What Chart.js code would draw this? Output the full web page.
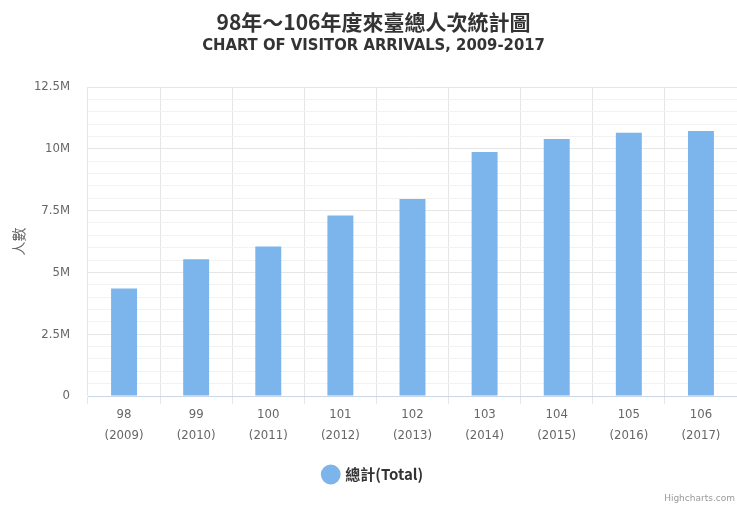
<!DOCTYPE html>
<html lang="zh-Hant">
<head>
  <meta charset="UTF-8" />
  <title>98年～106年度來臺總人次統計圖</title>
  <style>
    html, body { margin: 0; padding: 0; background: #fff; }
    #wrap { position: relative; width: 737px; height: 506px; }
    #credits { position: absolute; right: 2px; bottom: 3px; font: 9px "DejaVu Sans", sans-serif; color: #999; }
  </style>
  <script src="https://cdn.jsdelivr.net/npm/chart.js"></script>
</head>
<body>
  <div id="wrap">
    <canvas id="chart" width="737" height="506"></canvas>
    <div id="credits">Highcharts.com</div>
  </div>
  <script>
    // DATA
    const rocYears = ['98', '99', '100', '101', '102', '103', '104', '105', '106'];
    const adYears = ['(2009)', '(2010)', '(2011)', '(2012)', '(2013)', '(2014)', '(2015)', '(2016)', '(2017)'];
    const totals = [4350000, 5530000, 6050000, 7300000, 7970000, 9870000, 10400000, 10650000, 10720000];
    const yTickLabels = { 0: '0', 2500000: '2.5M', 5000000: '5M', 7500000: '7.5M', 10000000: '10M', 12500000: '12.5M' };

    const FONT = '"DejaVu Sans Condensed", "Noto Sans CJK TC", sans-serif';
    const CJK = '"Noto Sans CJK TC", sans-serif';
    const labels = rocYears.map((y, i) => [y, adYears[i]]);

    new Chart(document.getElementById('chart'), {
      type: 'bar',
      data: {
        labels,
        datasets: [{
          label: '總計(Total)',
          data: totals,
          backgroundColor: '#7cb5ec',
          borderWidth: 0,
          categoryPercentage: 1,
          barPercentage: 0.36
        }]
      },
      options: {
        responsive: false,
        animation: false,
        layout: { padding: { left: 10, right: 0, top: 9, bottom: 14 } },
        plugins: {
          title: {
            display: true,
            text: '98年～106年度來臺總人次統計圖',
            color: '#333',
            font: { family: CJK, size: 21, weight: 'bold', lineHeight: 1.2 },
            padding: { top: 0, bottom: 2 }
          },
          subtitle: {
            display: true,
            text: 'CHART OF VISITOR ARRIVALS, 2009-2017',
            color: '#333',
            font: { family: FONT, size: 16.5, weight: 'bold', lineHeight: 1.2 },
            padding: { top: 0, bottom: 31 }
          },
          legend: {
            position: 'bottom',
            labels: {
              usePointStyle: true,
              pointStyle: 'circle',
              boxWidth: 14,
              boxHeight: 14,
              color: '#333',
              font: { family: CJK, size: 15, weight: 'bold' },
              padding: 14
            }
          },
          tooltip: { enabled: false }
        },
        scales: {
          x: {
            grid: { color: '#e6e6e6', offset: true, tickLength: 8 },
            border: { color: '#ccd6eb' },
            ticks: { color: '#666', font: { family: FONT, size: 13, lineHeight: 1.6 }, padding: 0 },
            afterFit: scale => { scale.height = 57; }
          },
          y: {
            min: 0,
            max: 12500000,
            grid: {
              color: ctx => (ctx.tick && ctx.tick.value % 2500000 === 0) ? '#e6e6e6' : '#f2f2f2',
              drawTicks: false
            },
            border: { display: false },
            ticks: {
              stepSize: 500000,
              autoSkip: false,
              color: '#666',
              font: { family: FONT, size: 13 },
              padding: 18,
              callback: v => (yTickLabels[v] !== undefined ? yTickLabels[v] : '')
            },
            title: {
              display: true,
              text: '人數',
              color: '#666',
              font: { family: CJK, size: 14 },
              padding: { top: 0, bottom: 12 }
            },
            afterFit: scale => { scale.width = 78; }
          }
        }
      }
    });
  </script>
</body>
</html>
